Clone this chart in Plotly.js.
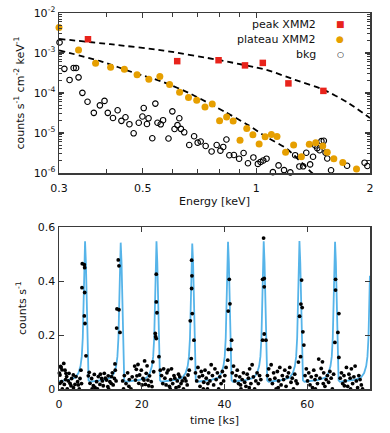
<!DOCTYPE html>
<html>
<head>
<meta charset="utf-8">
<script src="https://cdn.plot.ly/plotly-3.0.1.min.js"></script>
<style>html,body{margin:0;padding:0;background:#fff;}#chart{width:390px;height:433px;}</style>
</head>
<body>
<div id="chart"></div>
<script>
// ---------- Top panel: spectrum ----------
const peakEnergy = [0.358, 0.617, 0.794, 0.933, 1.04, 1.216, 1.505];
const peakFlux   = [2.21e-3, 6.25e-4, 6.6e-4, 4.9e-4, 5.66e-4, 1.74e-4, 1.13e-4];

const plateauEnergy = [0.300,0.338,0.375,0.411,0.447,0.483,0.519,0.555,0.589,0.626,0.661,0.695,0.731,0.764,0.799,0.834,0.868,0.905,0.943,0.979,1.017,1.055,1.096,1.134,1.195,1.255,1.316,1.381,1.436,1.499,1.541,1.604,1.694,1.842];
const plateauFlux   = [4.33e-3,1.19e-3,5.57e-4,4.43e-4,3.90e-4,2.84e-4,2.20e-4,2.59e-4,1.62e-4,1.05e-4,7.77e-5,6.58e-5,4.45e-5,5.28e-5,2.03e-5,2.51e-5,1.99e-5,6.58e-6,1.29e-5,9.08e-6,5.32e-6,8.09e-6,9.18e-6,8.18e-6,3.32e-6,5.02e-6,2.56e-6,5.22e-6,5.73e-6,4.74e-6,3.30e-6,2.28e-6,1.84e-6,1.25e-6];

const bkgEnergy = [0.301,0.310,0.320,0.328,0.333,0.338,0.346,0.357,0.371,0.385,0.396,0.404,0.417,0.429,0.439,0.450,0.461,
  0.473,0.488,0.499,0.503,0.513,0.518,0.530,0.540,0.547,0.558,0.566,0.585,0.599,0.607,0.618,0.625,0.631,
  0.644,0.664,0.684,0.699,0.712,0.734,0.761,0.785,0.803,0.817,0.833,0.848,0.872,0.900,0.925,0.950,0.982,
  1.009,1.026,1.043,1.064,1.106,1.145,1.184,1.230,1.267,1.300,1.330,1.356,1.388,1.413,1.432,1.450,1.470,1.487,1.509,1.525,1.541,1.577,1.739,1.935,1.968];
const bkgFlux = [1.84e-3,4.01e-4,2.12e-4,4.23e-4,4.23e-4,2.46e-4,1.01e-4,6.03e-5,3.19e-5,4.91e-5,6.35e-5,3.19e-5,2.37e-5,3.71e-5,2.01e-5,2.47e-5,1.66e-5,
  9.83e-6,1.80e-5,2.58e-5,4.20e-5,1.68e-5,2.33e-5,7.41e-6,5.44e-5,1.80e-5,1.65e-5,2.09e-5,7.29e-6,3.48e-5,1.26e-5,1.57e-5,2.34e-5,1.27e-5,
  1.04e-5,5.02e-6,8.28e-6,5.73e-6,6.14e-6,4.74e-6,3.46e-6,5.02e-6,3.62e-6,4.48e-6,6.89e-6,2.78e-6,2.82e-6,2.28e-6,3.17e-6,1.75e-6,2.45e-6,
  1.69e-6,1.89e-6,2.06e-6,2.28e-6,1.05e-6,1.55e-6,1.18e-6,1.035e-6,2.79e-6,1.46e-6,1.47e-6,3.21e-6,1.64e-6,2.55e-6,4.88e-6,4.18e-6,3.71e-6,6.25e-6,6.38e-6,3.23e-6,2.30e-6,1.17e-6,1.52e-6,1.81e-6,1.50e-6];

const peakModelEnergy = [0.3, 0.410, 0.568, 0.792, 1.063, 1.266, 1.509, 1.738, 2.0];
const peakModelFlux   = [2.25e-3, 1.66e-3, 1.15e-3, 6.73e-4, 3.79e-4, 2.13e-4, 1.2e-4, 5.93e-5, 2.37e-5];
const plateauModelEnergy = [0.3, 0.386, 0.478, 0.568, 0.672, 0.827, 0.951, 1.063, 1.206, 1.405, 1.475];
const plateauModelFlux   = [1.17e-3, 6.25e-4, 3.13e-4, 1.87e-4, 9.4e-5, 3.34e-5, 1.58e-5, 7.94e-6, 3.99e-6, 1e-6, 6.6e-7];

const energyTicks = [0.3,0.5,1,2];
const energyTickText = ['0.3','0.5','1','2'];
const energyMinorTicks = [0.4,0.6,0.7,0.8,0.9];
const fluxTicks = [1e-6,1e-5,1e-4,1e-3,1e-2];
const fluxTickText = ['10<sup>-6</sup>','10<sup>-5</sup>','10<sup>-4</sup>','10<sup>-3</sup>','10<sup>-2</sup>'];

// ---------- Bottom panel: light curve ----------
const lcTime = [
  0.08,0.24,0.24,0.4,0.48,0.64,0.73,0.8,1.15,1.29,1.45,1.6,1.69,1.85,2.0,2.25,2.42,2.66,2.9,3.06,3.46,3.5,3.87,4.1,4.5,4.67,4.9,5.08,5.3,5.45,
  5.56,5.63,6.12,6.12,6.21,6.21,6.28,6.53,
  7.09,7.3,7.5,7.9,8.0,8.3,8.54,8.7,9.1,9.3,9.5,9.9,10.0,10.3,10.5,10.7,10.95,11.2,11.5,11.8,11.9,12.0,12.3,12.6,12.7,12.9,13.1,13.4,13.6,13.8,
  13.53,13.94,14.02,14.33,14.5,14.5,14.74,
  15.4,15.6,15.8,16.2,16.6,16.9,17.0,17.4,17.7,18.3,18.5,18.7,18.85,19.1,19.3,19.5,19.9,20.1,20.3,20.55,20.7,20.9,21.1,21.3,21.5,21.7,21.9,22.3,22.5,22.7,22.9,
  23.28,23.37,23.52,23.52,23.52,23.69,24.17,
  24.5,24.8,25.1,25.3,25.6,25.9,26.1,26.4,26.7,26.9,27.0,27.2,27.5,27.8,28.0,28.3,28.6,28.9,29.0,29.2,29.5,29.8,30.1,30.4,30.7,31.0,31.2,31.5,
  31.74,31.98,32.07,32.07,32.15,32.22,32.63,
  33.0,33.3,33.6,33.9,34.1,34.4,34.7,34.9,35.0,35.3,35.6,35.9,36.0,36.2,36.5,36.8,37.1,37.4,37.7,38.0,38.3,38.6,38.9,39.2,39.5,39.8,40.1,40.4,
  40.8,40.92,40.92,41.17,41.33,41.57,41.74,
  41.9,42.2,42.5,42.8,43.1,43.4,43.7,43.9,44.0,44.3,44.6,44.9,45.2,45.5,45.8,46.0,46.1,46.4,46.7,47.0,47.3,47.6,47.9,48.2,48.5,48.8,
  49.23,49.23,49.47,49.62,49.62,49.62,50.03,
  50.4,50.7,51.0,51.3,51.6,51.9,52.2,52.5,52.8,53.0,53.1,53.4,53.7,54.0,54.3,54.6,54.9,55.2,55.5,55.8,56.1,56.4,56.7,57.0,57.3,57.6,57.9,
  58.17,58.42,58.49,58.66,58.8,58.97,59.21,
  59.5,59.8,60.1,60.4,60.7,61.0,61.3,61.6,61.9,62.0,62.2,62.5,62.8,63.1,63.4,63.7,63.9,64.0,64.3,64.6,64.9,65.2,65.5,65.8,66.1,66.4,
  66.71,66.87,66.87,67.43,67.67,67.67,
  68.0,68.3,68.6,68.9,69.0,69.2,69.5,69.8,70.1,70.4,70.5,70.7,71.0,71.3,71.6,71.9,72.2,72.5,72.8,73.1,73.4
];
const lcRate = [
  0.059,0.052,0.021,0.084,0.080,0.027,0.071,0.0,0.095,0.017,0.070,0.035,0.058,0.046,0.0,0.030,0.058,0.021,0.012,0.039,0.052,0.005,0.017,0.046,0.027,0.015,0.0,0.039,0.070,0.020,
  0.376,0.465,0.461,0.271,0.45,0.358,0.243,0.123,
  0.049,0.062,0.021,0.039,0.0,0.012,0.054,0.006,0.027,0.0,0.046,0.017,0.055,0.039,0.030,0.012,0.058,0.040,0.033,0.009,0.049,0.0,0.027,0.021,0.046,0.060,0.015,0.039,0.070,0.030,
  0.093,0.226,0.297,0.479,0.457,0.294,0.21,
  0.030,0.0,0.050,0.020,0.060,0.010,0.035,0.0,0.045,0.085,0.033,0.073,0.049,0.091,0.021,0.052,0.070,0.015,0.039,0.033,0.104,0.017,0.058,0.086,0.033,0.012,0.049,0.027,0.009,0.101,0.064,
  0.206,0.194,0.187,0.323,0.426,0.283,0.12,
  0.070,0.050,0.020,0.075,0.040,0.015,0.060,0.070,0.010,0.0,0.035,0.075,0.020,0.050,0.040,0.005,0.030,0.055,0.009,0.045,0.020,0.030,0.0,0.040,0.030,0.015,0.052,0.070,
  0.253,0.113,0.478,0.373,0.42,0.28,0.181,
  0.060,0.030,0.080,0.045,0.010,0.065,0.050,0.0,0.025,0.070,0.040,0.0,0.020,0.060,0.030,0.090,0.050,0.015,0.075,0.035,0.060,0.0,0.045,0.020,0.065,0.030,0.050,0.080,
  0.107,0.289,0.147,0.407,0.316,0.147,0.181,
  0.060,0.085,0.030,0.050,0.070,0.020,0.045,0.015,0.0,0.035,0.060,0.025,0.010,0.055,0.040,0.005,0.075,0.020,0.090,0.045,0.0,0.030,0.060,0.020,0.050,0.035,
  0.407,0.181,0.56,0.41,0.379,0.204,0.181,
  0.050,0.075,0.035,0.090,0.020,0.060,0.040,0.0,0.065,0.005,0.030,0.080,0.015,0.050,0.035,0.070,0.010,0.045,0.060,0.080,0.025,0.040,0.0,0.055,0.030,0.020,0.100,
  0.27,0.12,0.315,0.404,0.302,0.212,0.163,
  0.050,0.075,0.030,0.060,0.015,0.045,0.005,0.070,0.035,0.0,0.050,0.020,0.111,0.040,0.076,0.101,0.020,0.060,0.010,0.035,0.050,0.025,0.065,0.040,0.0,0.055,
  0.173,0.407,0.367,0.21,0.28,0.117,
  0.040,0.060,0.020,0.050,0.012,0.030,0.080,0.010,0.055,0.040,0.0,0.075,0.020,0.045,0.085,0.030,0.005,0.050,0.035,0.015,0.0
];

const modelTime = [
  0.0,2.3,3.9,4.7,5.2,5.5,5.75,5.9,6.1,6.3,6.5,6.7,6.86,7.0,7.15,7.5,
  8.72,10.92,12.52,13.32,13.82,14.12,14.37,14.52,14.72,14.92,15.12,15.32,15.48,15.62,15.77,16.12,
  17.37,19.57,21.17,21.97,22.47,22.77,23.02,23.17,23.37,23.57,23.77,23.97,24.13,24.27,24.42,24.77,
  26.02,28.22,29.82,30.62,31.12,31.42,31.67,31.82,32.02,32.22,32.42,32.62,32.78,32.92,33.07,33.42,
  34.67,36.87,38.47,39.27,39.77,40.07,40.32,40.47,40.67,40.87,41.07,41.27,41.43,41.57,41.72,42.07,
  43.3,45.5,47.1,47.9,48.4,48.7,48.95,49.1,49.3,49.5,49.7,49.9,50.06,50.2,50.35,50.7,
  51.94,54.14,55.74,56.54,57.04,57.34,57.59,57.74,57.94,58.14,58.34,58.54,58.7,58.84,58.99,59.34,
  60.55,62.75,64.35,65.15,65.65,65.95,66.2,66.35,66.55,66.75,66.95,67.15,67.31,67.45,67.6,67.95,
  69.18,71.38,72.98,73.78,74.28,74.58,74.83,74.98,75.18
];
const modelRate = [
  0.029,0.034,0.042,0.059,0.085,0.12,0.19,0.29,0.42,0.548,0.47,0.32,0.17,0.07,0.032,0.027,
  0.030,0.034,0.042,0.059,0.085,0.12,0.19,0.29,0.42,0.543,0.47,0.32,0.17,0.07,0.032,0.027,
  0.030,0.034,0.042,0.059,0.085,0.12,0.19,0.29,0.42,0.548,0.47,0.32,0.17,0.07,0.032,0.027,
  0.030,0.034,0.042,0.059,0.085,0.12,0.19,0.29,0.42,0.540,0.47,0.32,0.17,0.07,0.032,0.027,
  0.030,0.034,0.042,0.059,0.085,0.12,0.19,0.29,0.42,0.546,0.47,0.32,0.17,0.07,0.032,0.027,
  0.030,0.034,0.042,0.059,0.085,0.12,0.19,0.29,0.42,0.548,0.47,0.32,0.17,0.07,0.032,0.027,
  0.030,0.034,0.042,0.059,0.085,0.12,0.19,0.29,0.42,0.549,0.47,0.32,0.17,0.07,0.032,0.027,
  0.030,0.034,0.042,0.059,0.085,0.12,0.19,0.29,0.42,0.546,0.47,0.32,0.17,0.07,0.032,0.027,
  0.030,0.034,0.042,0.059,0.085,0.12,0.19,0.29,0.42
];

const timeTicks = [0,20,40,60];
const rateTicks = [0,0.2,0.4,0.6];

// ---------- styling ----------
const FONT = 'DejaVu Sans, Verdana, sans-serif';
const AX = '#3a3a3a';
const RED = '#e8231b', ORANGE = '#e69f00', BLUE = '#56b4e9';

const minorFluxTicks = [];
for (let d = -6; d < -2; d++) for (let m = 2; m <= 9; m++) minorFluxTicks.push(m * Math.pow(10, d));

const traces = [
  {x: peakModelEnergy, y: peakModelFlux, xaxis:'x', yaxis:'y', mode:'lines', type:'scatter',
   line:{color:'#000', width:1.8, dash:'6px,4px', shape:'spline', smoothing:0.6}, showlegend:false, hoverinfo:'skip'},
  {x: plateauModelEnergy, y: plateauModelFlux, xaxis:'x', yaxis:'y', mode:'lines', type:'scatter',
   line:{color:'#000', width:1.8, dash:'6px,4px', shape:'spline', smoothing:0.6}, showlegend:false, hoverinfo:'skip'},
  {x: bkgEnergy, y: bkgFlux, xaxis:'x', yaxis:'y', mode:'markers', type:'scatter', name:'bkg', cliponaxis:false,
   marker:{symbol:'circle-open', size:5.5, color:'#000', line:{width:1.1, color:'#000'}}, showlegend:false},
  {x: plateauEnergy, y: plateauFlux, xaxis:'x', yaxis:'y', mode:'markers', type:'scatter', name:'plateau XMM2', cliponaxis:false,
   marker:{symbol:'circle', size:7, color:ORANGE}, showlegend:false},
  {x: peakEnergy, y: peakFlux, xaxis:'x', yaxis:'y', mode:'markers', type:'scatter', name:'peak XMM2', cliponaxis:false,
   marker:{symbol:'square', size:6.5, color:RED}, showlegend:false},
  {x: modelTime, y: modelRate, xaxis:'x2', yaxis:'y2', mode:'lines', type:'scatter',
   line:{color:BLUE, width:1.8}, showlegend:false, hoverinfo:'skip'},
  {x: lcTime, y: lcRate, xaxis:'x2', yaxis:'y2', mode:'markers', type:'scatter', cliponaxis:false,
   marker:{symbol:'circle', size:3.8, color:'#000'}, showlegend:false}
];

const axisCommon = {
  showline:true, linecolor:AX, linewidth:1.5, mirror:'ticks', ticks:'inside',
  tickcolor:AX, tickwidth:1.2, ticklen:5, showgrid:false, zeroline:false,
  tickfont:{family:FONT, size:11, color:'#111'}, automargin:false
};

const H = 376, B = 44;
function py(p){ return (433 - B - p) / H; }
function px(p){ return (p - 59) / 311; }

const layout = {
  width:390, height:433,
  margin:{l:59, r:20, t:13, b:44},
  paper_bgcolor:'#fff', plot_bgcolor:'#fff',
  font:{family:FONT, size:11, color:'#111'},
  showlegend:false,
  xaxis: Object.assign({}, axisCommon, {
    type:'log', range:[Math.log10(0.3), Math.log10(2)], anchor:'y', domain:[0,1],
    tickmode:'array', tickvals:energyTicks, ticktext:energyTickText, ticklabelstandoff:4,
    minor:{tickmode:'array', tickvals:energyMinorTicks, ticks:'inside', ticklen:4, tickcolor:AX, tickwidth:1},
    title:{text:'Energy [keV]', font:{family:FONT, size:11, color:'#111'}, standoff:3}
  }),
  yaxis: Object.assign({}, axisCommon, {
    type:'log', range:[-6,-2], anchor:'x', domain:[py(173), 1],
    tickmode:'array', tickvals:fluxTicks, ticktext:fluxTickText,
    minor:{tickmode:'array', tickvals:minorFluxTicks, ticks:'inside', ticklen:3, tickcolor:AX, tickwidth:1},
    title:{text:'counts s<sup>-1</sup> cm<sup>-2</sup> keV<sup>-1</sup>', font:{family:FONT, size:11, color:'#111'}, standoff:7}
  }),
  xaxis2: Object.assign({}, axisCommon, {
    range:[0,75.2], anchor:'y2', domain:[0,1],
    tickmode:'array', tickvals:timeTicks, ticktext:timeTicks.map(String), ticklabelstandoff:4,
    title:{text:'time [ks]', font:{family:FONT, size:11, color:'#111'}, standoff:6}
  }),
  yaxis2: Object.assign({}, axisCommon, {
    range:[0,0.6], anchor:'x2', domain:[0, py(227.3)],
    tickmode:'array', tickvals:rateTicks, ticktext:['0','0.2','0.4','0.6'],
    title:{text:'counts s<sup>-1</sup>', font:{family:FONT, size:11, color:'#111'}, standoff:9}
  }),
  annotations:[
    {xref:'paper', yref:'paper', x:px(318), y:py(24.3), xanchor:'right', yanchor:'middle', showarrow:false,
     text:'peak XMM2', font:{family:FONT, size:11, color:'#111'}},
    {xref:'paper', yref:'paper', x:px(318), y:py(39.3), xanchor:'right', yanchor:'middle', showarrow:false,
     text:'plateau XMM2', font:{family:FONT, size:11, color:'#111'}},
    {xref:'paper', yref:'paper', x:px(318), y:py(54.3), xanchor:'right', yanchor:'middle', showarrow:false,
     text:'bkg', font:{family:FONT, size:11, color:'#111'}},
    {xref:'paper', yref:'paper', x:px(340), y:py(24.3), xanchor:'center', yanchor:'middle', showarrow:false,
     text:'■', font:{family:FONT, size:9, color:RED}},
    {xref:'paper', yref:'paper', x:px(340), y:py(39.3), xanchor:'center', yanchor:'middle', showarrow:false,
     text:'●', font:{family:FONT, size:9, color:ORANGE}},
    {xref:'paper', yref:'paper', x:px(340), y:py(54.3), xanchor:'center', yanchor:'middle', showarrow:false,
     text:'○', font:{family:FONT, size:8, color:'#000'}}
  ]
};

Plotly.newPlot('chart', traces, layout, {staticPlot:true, displayModeBar:false});
</script>
</body>
</html>
